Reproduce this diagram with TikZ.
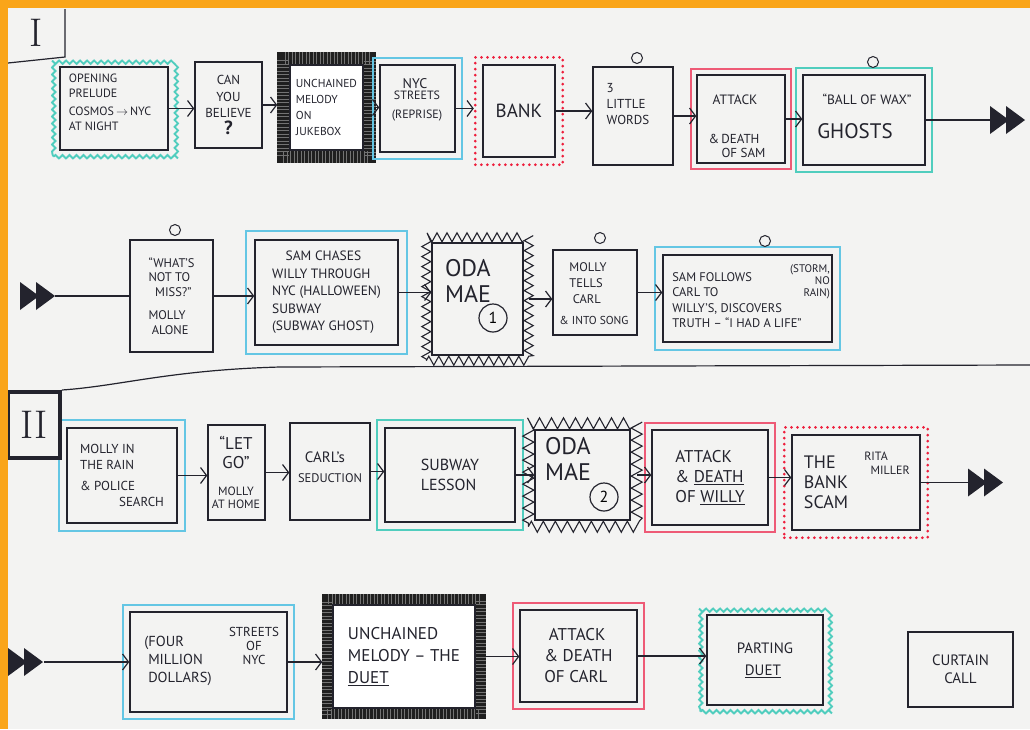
\documentclass[tikz,border=0pt]{standalone}
\usepackage{fontspec}
\newfontfamily\hand{PT Sans}
\usetikzlibrary{arrows.meta,decorations.pathmorphing,fit,calc,backgrounds}
\definecolor{ink}{RGB}{35,35,45}
\definecolor{paper}{RGB}{243,243,242}
\definecolor{cyanL}{RGB}{100,198,228}
\definecolor{tealL}{RGB}{80,205,190}
\definecolor{pinkL}{RGB}{238,90,118}
\definecolor{redD}{RGB}{238,30,60}
\definecolor{orangeB}{RGB}{250,165,25}
\tikzset{
  box/.style={draw=ink, line width=1.4pt, inner sep=2pt, text=ink},
  fs/.style 2 args={font=\hand\fontsize{#1}{#2}\selectfont, text=ink},
  ring/.style={circle, draw=ink, line width=1pt, minimum size=11pt, inner sep=0pt},
  numring/.style={circle, draw=ink, line width=1.2pt, minimum size=28pt, inner sep=0pt, font=\hand\fontsize{16}{16}\selectfont},
  conn/.style={ink, line width=1.2pt, -{Straight Barb[length=6pt,width=16pt]}},
  plain/.style={ink, line width=1.2pt},
  outl/.style={draw=#1, line width=1.9pt, inner sep=6pt},
  wavy/.style={decorate, decoration={snake, amplitude=1.7pt, segment length=7pt}},
  zz/.style={draw=ink, line width=1.1pt, inner sep=5pt, decorate, decoration={zigzag, amplitude=4.5pt, segment length=10pt}},
  reddot/.style={draw=redD, line width=3pt, line cap=round, dash pattern=on 0pt off 6pt, inner sep=7pt},
  hatch/.style={draw=black!88, line width=#1, postaction={draw=black!55, line width=#1, dash pattern=on 0.5pt off 3pt}},
  ffwd/.pic={
    \fill[ink] (0,-14) -- (19,0) -- (0,14) -- cycle;
    \fill[ink] (16,-14) -- (35,0) -- (16,14) -- cycle;
  },
  roman/.style={font=\fontsize{40}{40}\selectfont, text=ink}
}
\begin{document}
\begin{tikzpicture}[x=1pt,y=-1pt]
\useasboundingbox (0,0) rectangle (1030,729);

% ---------- Act I label ----------
\node[roman] (act1) at (36,33) {I};
\draw[plain] (65,9) -- (65,57) -- (8,63);

% ---------- Row 1 ----------
\node[box, minimum width=108pt, minimum height=83pt] (b1) at (114,108.5) {};
\node[fs={12}{15}, align=left] (b1t) at (110,102) {OPENING\\PRELUDE\\[3pt]COSMOS\,$\to$\,NYC\\AT NIGHT};
\node[box, fs={13}{16.5}, align=center, minimum width=67pt, minimum height=86pt] (b2) at (228.5,105) {CAN\\YOU\\BELIEVE\\\fontsize{19}{19}\selectfont\bfseries ?};
\node[box, fs={11.5}{16}, align=left, fill=white, minimum width=73pt, minimum height=85pt] (b3) at (326.5,107.5) {UNCHAINED\\MELODY\\ON\\JUKEBOX};
\node[box, minimum width=75pt, minimum height=87pt] (b4) at (417.5,108.5) {};
\node[fs={14}{14}] (b4a) at (415,84) {NYC};
\node[fs={12}{13}, align=center] (b4b) at (417,106) {STREETS\\[6pt](REPRISE)};
\node[box, fs={19}{19}, minimum width=72pt, minimum height=92pt] (b5) at (519,111) {BANK};
\node[box, minimum width=80pt, minimum height=98pt] (b6) at (633,116) {};
\node[fs={13}{16}, align=left] (b6t) at (628,104) {3\\LITTLE\\WORDS};
\node[ring] (b6c) at (637,58) {};
\node[box, minimum width=88pt, minimum height=88pt] (b7) at (741,119) {};
\node[fs={13.5}{13.5}] (b7a) at (735,100) {ATTACK};
\node[fs={13}{14}, align=left] (b7b) at (737,146) {\&\,DEATH\\\quad OF SAM};
\node[box, minimum width=122pt, minimum height=90pt] (b8) at (864,120) {};
\node[fs={13.5}{14}] (b8a) at (867,99) {“BALL OF WAX”};
\node[fs={21}{21}] (b8b) at (855,131) {GHOSTS};
\node[ring] (b8c) at (873,62) {};
\coordinate (ff1) at (990,120);

% ---------- Row 2 ----------
\coordinate (ff2) at (55,296);
\node[box, fs={12.5}{14.5}, align=left, minimum width=83pt, minimum height=112pt] (c1) at (171.5,296) {“WHAT’S\\NOT TO\\\ \ MISS?”\\[9pt]MOLLY\\\ ALONE};
\node[ring] (c1c) at (175,230) {};
\node[box, fs={13.5}{17.5}, align=left, minimum width=143pt, minimum height=105pt] (c2) at (326.5,292.5) {\quad SAM CHASES\\WILLY THROUGH\\NYC (HALLOWEEN)\\SUBWAY\\(SUBWAY GHOST)};
\node[box, minimum width=91pt, minimum height=112pt] (c3) at (477.5,299) {};
\node[fs={24}{26}, align=left] (c3t) at (468,281) {ODA\\MAE};
\node[numring] (c3n) at (493,318) {1};
\node[box, minimum width=84pt, minimum height=85pt] (c4) at (595,292.5) {};
\node[fs={12.5}{16}, align=left] (c4t) at (588,283) {MOLLY\\TELLS\\\ CARL};
\node[fs={11.5}{12}] (c4s) at (594,320) {\& INTO SONG};
\node[ring] (c4c) at (600,238) {};
\node[box, minimum width=169pt, minimum height=87pt] (c5) at (747.5,298.5) {};
\node[fs={12.5}{15.5}, align=left] (c5t) at (737,300) {SAM FOLLOWS\\CARL TO\\WILLY’S, DISCOVERS\\TRUTH – “I HAD A LIFE”};
\node[fs={11}{12}, align=right] (c5s) at (810,282) {(STORM,\\NO\\RAIN)};
\node[ring] (c5c) at (765,241) {};

% ---------- Separator + Act II label ----------
\node[draw=ink, line width=4pt, minimum width=52pt, minimum height=66pt, roman] (act2) at (34,425) {II};
\draw[plain] (act2.north east) .. controls (120,386) and (170,370) .. (280,367) -- (1030,365);

% ---------- Row 3 ----------
\node[box, fs={13}{16}, align=left, minimum width=110pt, minimum height=95pt] (d1) at (122,475.5) {MOLLY IN\\THE RAIN\\[5pt]\& POLICE\\\hspace*{3em}SEARCH};
\node[box, minimum width=57pt, minimum height=95pt] (d2) at (236.5,472.5) {};
\node[fs={17}{19}, align=center] (d2a) at (236,452) {“LET\\GO”};
\node[fs={12}{13.5}, align=center] (d2b) at (236,498) {MOLLY\\AT HOME};
\node[box, minimum width=80pt, minimum height=97pt] (d3) at (330,471.5) {};
\node[fs={15}{15}] (d3a) at (325,457) {CARL’s};
\node[fs={12.5}{12.5}] (d3b) at (330,478) {SEDUCTION};
\node[box, fs={16}{20}, align=left, minimum width=130pt, minimum height=94pt] (d4) at (450,475) {SUBWAY\\LESSON};
\node[box, minimum width=95pt, minimum height=90pt] (d5) at (582.5,475) {};
\node[fs={24}{26}, align=left] (d5t) at (568,459) {ODA\\MAE};
\node[numring] (d5n) at (604,497) {2};
\node[box, fs={17}{20}, align=left, minimum width=116pt, minimum height=95pt] (d6) at (710,477.5) {ATTACK\\\& \underline{DEATH}\\OF \underline{WILLY}};
\node[box, minimum width=128pt, minimum height=95pt] (d7) at (856,482.5) {};
\node[fs={18}{20}, align=left] (d7t) at (826,482) {THE\\BANK\\SCAM};
\node[fs={12}{13.5}, align=left] (d7s) at (887,463) {RITA\\\ \ MILLER};
\coordinate (ff3) at (968,482.5);

% ---------- Row 4 ----------
\coordinate (ff4) at (44,662);
\node[box, minimum width=157pt, minimum height=100pt] (e1) at (208.5,662) {};
\node[fs={14.5}{18}, align=left] (e1t) at (178,661) {(FOUR\\\ MILLION\\\ DOLLARS)};
\node[fs={13}{14}, align=center] (e1s) at (254,646) {STREETS\\OF\\NYC};
\node[box, fs={17}{22}, align=left, fill=white, minimum width=142pt, minimum height=103pt] (e2) at (404,656.5) {UNCHAINED\\MELODY – THE\\\underline{DUET}};
\node[box, fs={17}{21}, align=left, minimum width=117pt, minimum height=92pt] (e3) at (578.5,656) {\ ATTACK\\\& DEATH\\OF CARL};
\node[box, fs={15}{22}, align=left, minimum width=116pt, minimum height=90pt] (e4) at (765,660) {PARTING\\\ \ \underline{DUET}};
\node[box, fs={15}{18}, align=center, minimum width=105pt, minimum height=75pt] (e5) at (960.5,669.5) {CURTAIN\\CALL};

% ---------- Outlines and frames (behind) ----------
\begin{scope}[on background layer]
  \fill[paper] (0,0) rectangle (1030,729);
  \node[outl=tealL, wavy, fit=(b1)] (b1o) {};
  \node[hatch=12pt, inner sep=6pt, fit=(b3)] (b3f) {};
  \node[outl=cyanL, fit=(b4)] (b4o) {};
  \node[reddot, fit=(b5)] (b5o) {};
  \node[outl=pinkL, inner sep=5pt, fit=(b7)] (b7o) {};
  \node[outl=tealL, fit=(b8)] (b8o) {};
  \node[outl=cyanL, inner sep=8pt, fit=(c2)] (c2o) {};
  \node[zz, fit=(c3)] (c3z) {};
  \node[outl=cyanL, inner sep=7pt, fit=(c5)] (c5o) {};
  \node[outl=cyanL, inner sep=7pt, fit=(d1)] (d1o) {};
  \node[outl=tealL, inner sep=7pt, fit=(d4)] (d4o) {};
  \node[zz, inner sep=6pt, decoration={zigzag, amplitude=5.5pt, segment length=12pt}, fit=(d5)] (d5z) {};
  \node[outl=pinkL, fit=(d6)] (d6o) {};
  \node[reddot, fit=(d7)] (d7o) {};
  \node[outl=cyanL, fit=(e1)] (e1o) {};
  \node[hatch=10pt, inner sep=5pt, fit=(e2)] (e2f) {};
  \node[outl=pinkL, fit=(e3)] (e3o) {};
  \node[outl=tealL, wavy, fit=(e4)] (e4o) {};
\end{scope}

% ---------- Connectors ----------
\draw[conn] (b1.east) -- (b1.east -| b2.west);
\draw[conn] (b2.east) -- (b2.east -| b3f.west);
\draw[conn] (b3f.east) -- (b3f.east -| b4.west);
\draw[conn] (b4.east) -- (b4.east -| b5o.west);
\draw[conn] (b5.east) -- (b5.east -| b6.west);
\draw[conn] (b6.east) -- (b6.east -| b7.west);
\draw[conn] (b7.east) -- (b7.east -| b8.west);
\draw[plain] (b8.east) -- (ff1);
\pic at (ff1) {ffwd};

\pic at (20,296) {ffwd};
\draw[plain] (ff2) -- (c1.west);
\draw[conn] (c1.east) -- (c1.east -| c2.west);
\draw[conn] (c2.east) -- (c2.east -| c3.west);
\draw[conn] (c3z.east) -- (c3z.east -| c4.west);
\draw[conn] (c4.east) -- (c4.east -| c5.west);

\draw[conn] (d1.east) -- (d1.east -| d2.west);
\draw[conn] (d2.east) -- (d2.east -| d3.west);
\draw[conn] (d3.east) -- (d3.east -| d4.west);
\draw[conn] (d4.east) -- (d4.east -| d5.west);
\draw[conn] (d5z.east) -- (d5z.east -| d6.west);
\draw[conn] (d6.east) -- (d6.east -| d7.west);
\draw[plain] (d7.east) -- (ff3);
\pic at (ff3) {ffwd};

\pic at (8,662) {ffwd};
\draw[conn] (ff4) -- (e1.west);
\draw[conn] (e1.east) -- (e1.east -| e2f.west);
\draw[conn] (e2f.east) -- (e2f.east -| e3.west);
\draw[conn] (e3.east) -- (e3.east -| e4.west);

% ---------- Orange frame ----------
\fill[orangeB] (0,0) rectangle (1030,8);
\fill[orangeB] (0,0) rectangle (8,729);
\end{tikzpicture}
\end{document}
